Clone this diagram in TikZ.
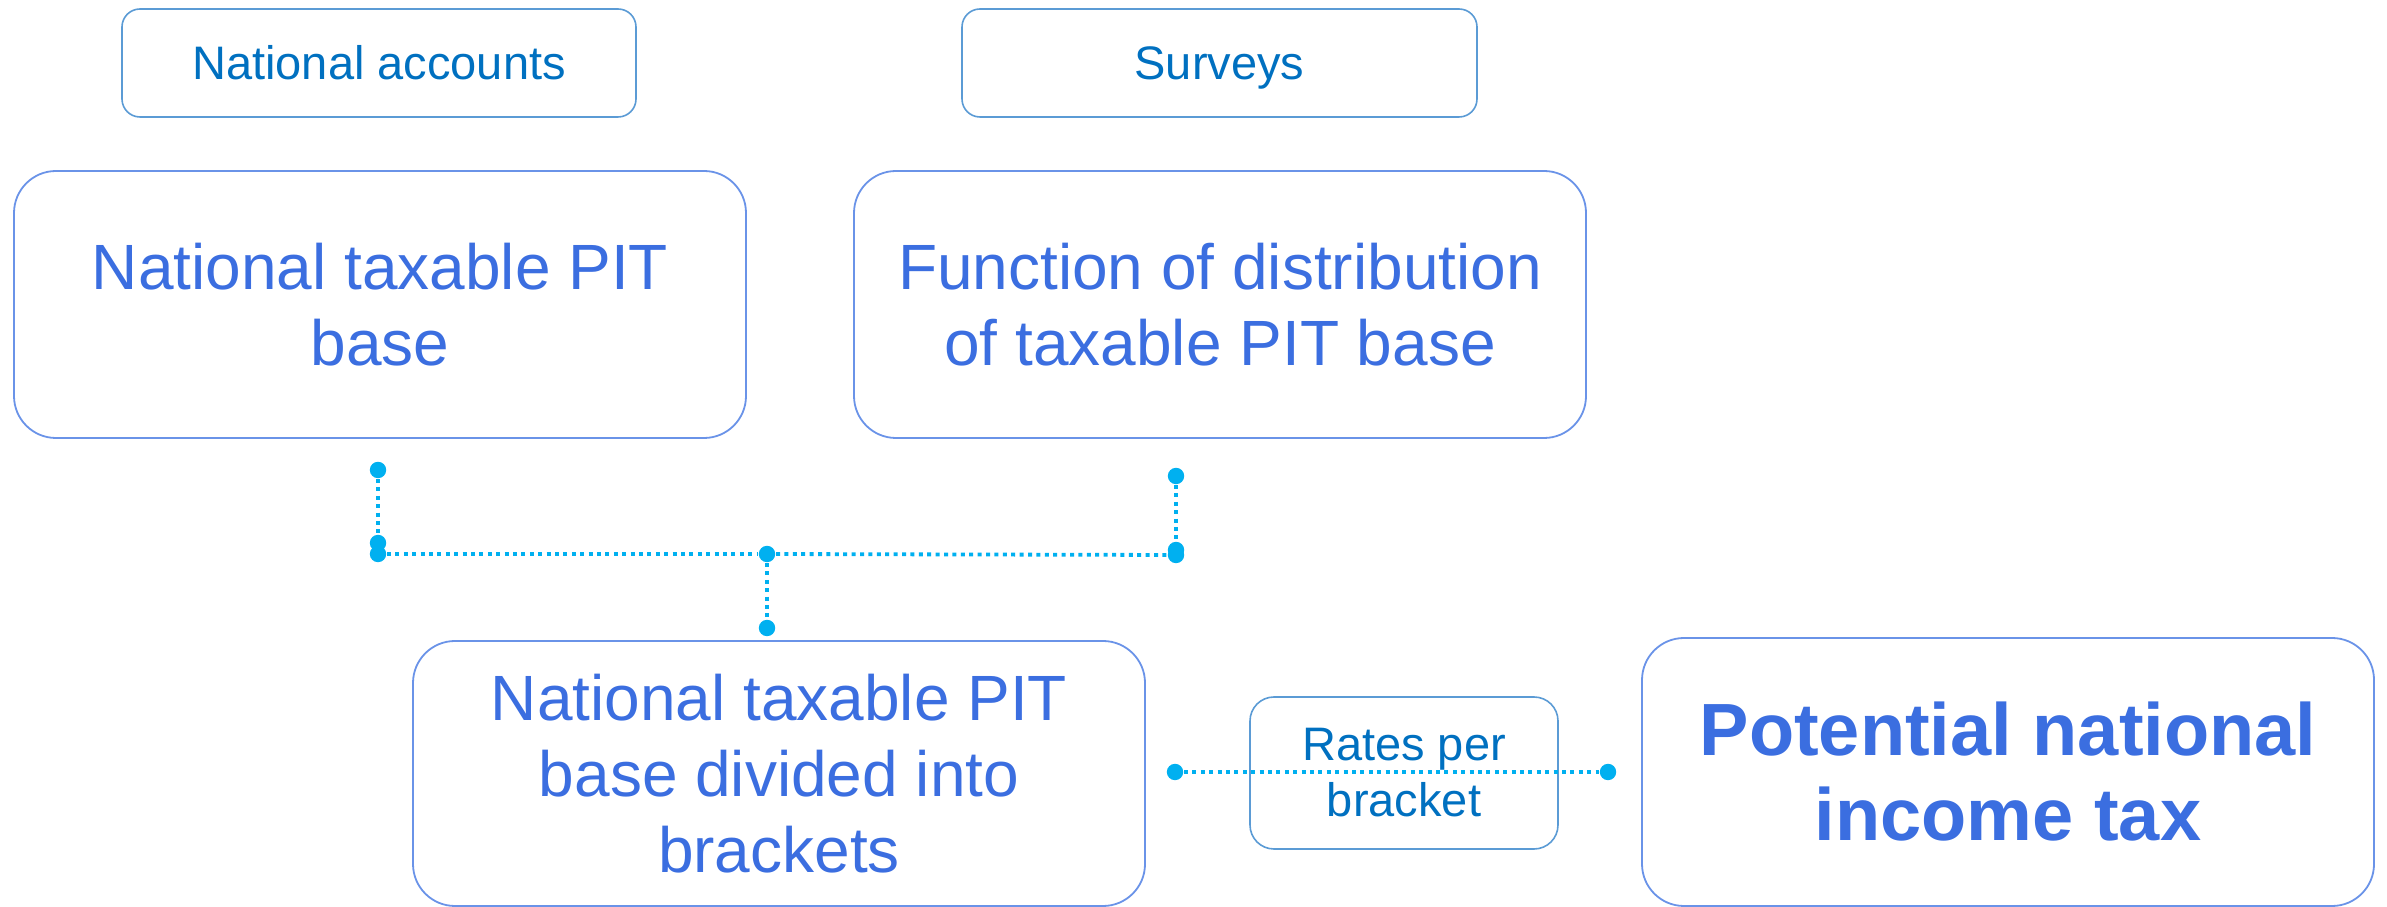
\documentclass[tikz,border=0pt]{standalone}
\usepackage{fontspec}
\setmainfont{Liberation Sans}
\definecolor{srcblue}{HTML}{0070C0}
\definecolor{srcedge}{HTML}{5B9BD5}
\definecolor{mainblue}{HTML}{3B6EE0}
\definecolor{mainedge}{HTML}{6A93E8}
\definecolor{linkblue}{HTML}{00B0F0}
\begin{document}
\begin{tikzpicture}[x=0.25pt,y=-0.25pt,
  srcbox/.style={draw=srcedge,line width=0.4pt,rounded corners=4.5pt,
    text=srcblue,font=\fontsize{11.75}{14}\selectfont,
    text height=0.72em+3pt,text depth=0.21em,
    inner sep=0pt,minimum width=#1*0.25pt,minimum height=27pt},
  mainbox/.style={draw=mainedge,line width=0.45pt,rounded corners=10.5pt,
    text=mainblue,font=\fontsize{16}{19}\selectfont,align=center,
    inner sep=0pt,minimum width=183pt,minimum height=#1*0.25pt},
  ratebox/.style={draw=srcedge,line width=0.4pt,rounded corners=6pt,
    text=srcblue,font=\fontsize{11.75}{14}\selectfont,align=center,
    inner sep=0pt,minimum width=77pt,minimum height=38pt},
  pin/.style={circle,fill=linkblue,inner sep=0pt,minimum size=4.1pt},
  link/.style={draw=linkblue,line width=0.95pt,dash pattern=on 1pt off 1.1pt}]
\useasboundingbox (0,0) rectangle (2387,907);
\clip (0,0) rectangle (2387,907);

% source boxes
\node[srcbox=514] (acc) at (379,63) {National accounts};
\node[srcbox=515] (srv) at (1219.5,63) {Surveys};

% main boxes
\node[mainbox=267] (base) at (380,304.5) {National taxable PIT\\base};
\node[mainbox=267] (dist) at (1220,304.5) {Function of distribution\\of taxable PIT base};
\node[mainbox=265] (brk) at (779,773.5) {National taxable PIT\\base divided into\\brackets};
\node[mainbox=268,font=\fontsize{18.5}{21.25}\selectfont\bfseries] (pot) at (2008,772) {Potential national\\income tax};

% connector end points
\node[pin] (la) at (378,470) {};
\node[pin] (lb) at (378,543) {};
\node[pin] (lc) at (378,554) {};
\node[pin] (ra) at (1176,476) {};
\node[pin] (rb) at (1176,550) {};
\node[pin] (rc) at (1176,555) {};
\node[pin] (ma) at (767,554) {};
\node[pin] (mb) at (767,628) {};
\node[pin] (ba) at (1175,772) {};
\node[pin] (bb) at (1608,772) {};

% dotted connectors
\draw[link] (la) -- (lb);
\draw[link] (ra) -- (rb);
\draw[link] (lc) -- (ma);
\draw[link] (ma) -- (rc);
\draw[link] (ma) -- (mb);

% rates box on the bottom connector
\node[ratebox] (rate) at (1404,773) {Rates per\\bracket};
\draw[link] (ba) -- (bb);
\end{tikzpicture}
\end{document}
